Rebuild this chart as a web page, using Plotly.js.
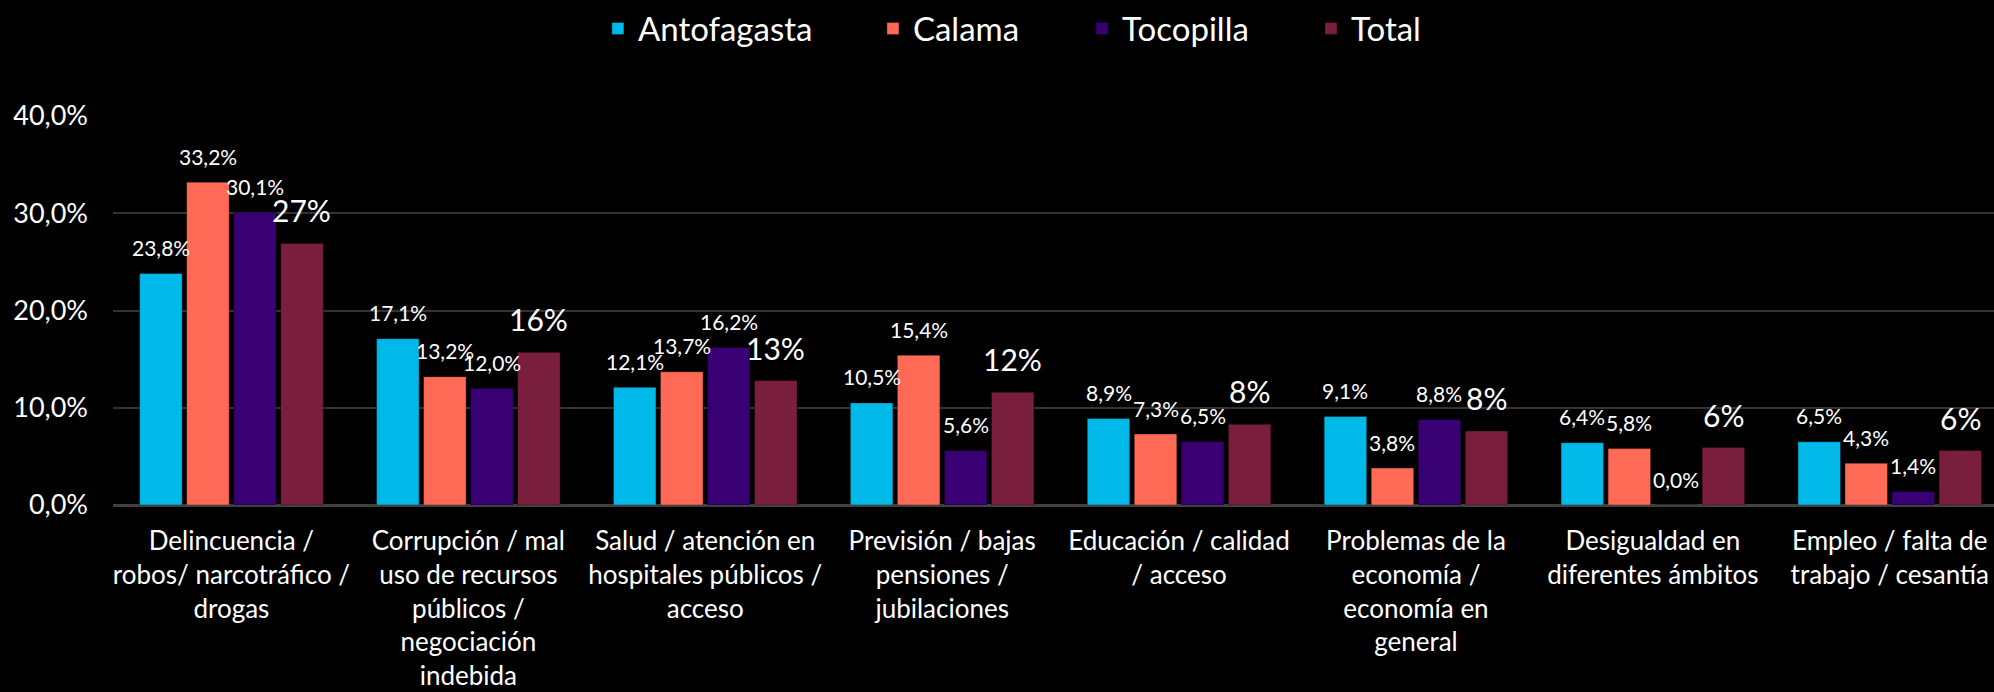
<!DOCTYPE html>
<html>
<head>
<meta charset="utf-8">
<script src="https://cdn.plot.ly/plotly-3.0.1.min.js"></script>
<style>
  html, body { margin: 0; padding: 0; background: #000; }
  #chart { width: 1994px; height: 692px; }
</style>
</head>
<body>
<div id="chart"></div>
<script>
const categories = [
  "Delincuencia /<br>robos/ narcotráfico /<br>drogas",
  "Corrupción / mal<br>uso de recursos<br>públicos /<br>negociación<br>indebida",
  "Salud / atención en<br>hospitales públicos /<br>acceso",
  "Previsión / bajas<br>pensiones /<br>jubilaciones",
  "Educación / calidad<br>/ acceso",
  "Problemas de la<br>economía /<br>economía en<br>general",
  "Desigualdad en<br>diferentes ámbitos",
  "Empleo / falta de<br>trabajo / cesantía"
];
const seriesNames = ["Antofagasta", "Calama", "Tocopilla", "Total"];
const antofagasta = [23.8, 17.1, 12.1, 10.5, 8.9, 9.1, 6.4, 6.5];
const calama      = [33.2, 13.2, 13.7, 15.4, 7.3, 3.8, 5.8, 4.3];
const tocopilla   = [30.1, 12.0, 16.2, 5.6, 6.5, 8.8, 0.0, 1.4];
const total       = [26.9, 15.7, 12.8, 11.6, 8.3, 7.6, 5.9, 5.6];
const yTicks = [0, 10, 20, 30, 40];

const seriesValues = [antofagasta, calama, tocopilla, total];
const colors = ["#00B9E8", "#FF6A56", "#380072", "#7A1E3D"];
const legendNames = ["legend", "legend2", "legend3", "legend4"];
const legendX = [0.2578, 0.4040, 0.5152, 0.6369];

const fmt1 = v => v.toFixed(1).replace(".", ",") + "%";
const fmt0 = v => Math.round(v) + "%";

const traces = seriesValues.map((vals, i) => ({
  type: "bar",
  name: seriesNames[i],
  x: categories,
  y: vals,
  marker: { color: colors[i], line: { color: "rgba(0,0,0,0.35)", width: 1 } },
  legend: legendNames[i],
  hoverinfo: "skip"
}));

const slotPx = 47;
const annotations = [];
seriesValues.forEach((vals, i) => {
  const isTotal = i === 3;
  vals.forEach((v, j) => {
    annotations.push({
      x: categories[j], y: v, xref: "x", yref: "y",
      text: isTotal ? fmt0(v) : fmt1(v),
      showarrow: false,
      xanchor: "center", yanchor: "middle",
      xshift: (i - 1.5) * slotPx,
      yshift: isTotal ? 33 : 26,
      font: { family: "Lato, sans-serif", size: isTotal ? 30 : 21, color: "#ffffff" }
    });
  });
});

const layout = {
  width: 1994, height: 692,
  paper_bgcolor: "#000000", plot_bgcolor: "#000000",
  margin: { l: 113, r: 0, t: 112, b: 187 },
  font: { family: "Lato, sans-serif", color: "#ffffff" },
  separators: ",.",
  barmode: "group",
  bargap: 0.206,
  bargroupgap: 0.096,
  showlegend: true,
  xaxis: {
    type: "category",
    range: [-0.5, 7.44],
    showgrid: false, zeroline: false, showline: false,
    ticks: "",
    ticklabelstandoff: 18,
    tickfont: { family: "Lato, sans-serif", size: 26, color: "#ffffff" },
    fixedrange: true
  },
  yaxis: {
    range: [0, 40],
    tickvals: yTicks,
    ticktext: yTicks.map(t => t.toFixed(1).replace(".", ",") + "%"),
    showgrid: true, gridcolor: "#333333", gridwidth: 2,
    zeroline: true, zerolinecolor: "#404040", zerolinewidth: 3,
    showline: false, ticks: "",
    ticklabelstandoff: 24,
    tickfont: { family: "Lato, sans-serif", size: 27, color: "#ffffff" },
    fixedrange: true
  },
  annotations: annotations
};
legendNames.forEach((ln, i) => {
  layout[ln] = {
    orientation: "h",
    x: legendX[i], xanchor: "left",
    y: 1.225, yanchor: "middle",
    bgcolor: "rgba(0,0,0,0)",
    font: { family: "Lato, sans-serif", size: 33, color: "#ffffff" }
  };
});

Plotly.newPlot("chart", traces, layout, { displayModeBar: false, staticPlot: true });
</script>
</body>
</html>
